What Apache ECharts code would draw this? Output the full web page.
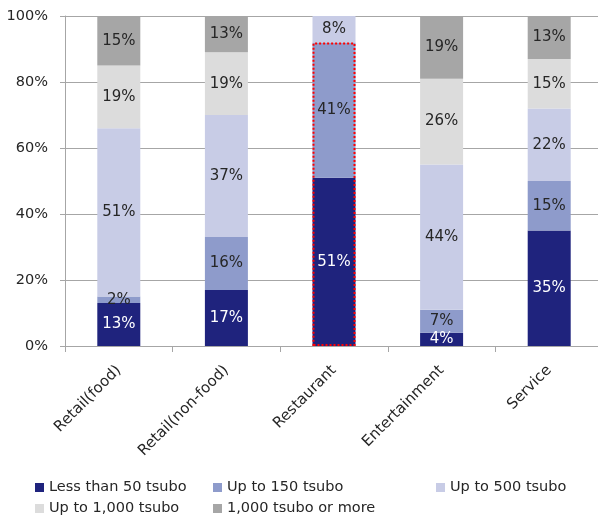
<!DOCTYPE html>
<html>
<head>
<meta charset="utf-8">
<script src="https://cdn.jsdelivr.net/npm/echarts@6/dist/echarts.min.js"></script>
<style>
  html, body { margin: 0; padding: 0; background: #ffffff; }
  #chart { width: 598px; height: 522px; }
</style>
</head>
<body>
<div id="chart"></div>
<script>
// Store-size mix by business type (share of floor area class, %)
const categories = ['Retail(food)', 'Retail(non-food)', 'Restaurant', 'Entertainment', 'Service'];

const seriesNames = ['Less than 50 tsubo', 'Up to 150 tsubo', 'Up to 500 tsubo', 'Up to 1,000 tsubo', '1,000 tsubo or more'];

const lessThan50 = [13, 17, 51, 4, 35];
const upTo150    = [2, 16, 41, 7, 15];
const upTo500    = [51, 37, 8, 44, 22];
const upTo1000   = [19, 19, 0, 26, 15];
const over1000   = [15, 13, 0, 19, 13];

const yTicks = [0, 20, 40, 60, 80, 100];

// Category whose two smallest size classes are outlined
const highlightCategory = 'Restaurant';

const colors = ['#1f237d', '#8e9bcb', '#c8cce6', '#dcdcdc', '#a6a6a6'];
const labelColors = ['#ffffff', '#262626', '#262626', '#262626', '#262626'];
const FONT = '"DejaVu Sans", Verdana, sans-serif';

const values = [lessThan50, upTo150, upTo500, upTo1000, over1000];

const stackSeries = values.map((vals, i) => ({
  name: seriesNames[i],
  type: 'bar',
  stack: 'share',
  barWidth: 43,
  barGap: '-100%',
  data: vals,
  itemStyle: { color: colors[i] },
  label: {
    show: true,
    position: 'inside',
    color: labelColors[i],
    fontFamily: FONT,
    fontSize: 15,
    formatter: p => (p.value > 0 ? p.value + '%' : '')
  },
  emphasis: { disabled: true }
}));

// Dotted outline around the two smallest classes of the highlighted category
const hIdx = categories.indexOf(highlightCategory);
const outlineData = categories.map((c, i) => (i === hIdx ? lessThan50[i] + upTo150[i] : '-'));

const outlineSeries = {
  name: 'outline',
  type: 'bar',
  barWidth: 43,
  barGap: '-100%',
  z: 5,
  data: outlineData,
  itemStyle: {
    color: 'rgba(0,0,0,0)',
    borderColor: '#ff0000',
    borderWidth: 2,
    borderType: [2, 2]
  },
  label: { show: false },
  silent: true,
  emphasis: { disabled: true }
};

// Legend laid out as a 3-column, 2-row block; one legend component per entry
const legendSlots = [
  { left: 35, top: 480 },
  { left: 213, top: 480 },
  { left: 436, top: 480 },
  { left: 35, top: 501 },
  { left: 213, top: 501 }
];

const legends = seriesNames.map((name, i) => ({
  data: [name],
  left: legendSlots[i].left,
  top: legendSlots[i].top,
  padding: 0,
  icon: 'rect',
  itemWidth: 9,
  itemHeight: 9,
  selectedMode: false,
  textStyle: { fontFamily: FONT, fontSize: 14.5, color: '#262626' }
}));

const chart = echarts.init(document.getElementById('chart'), null, { renderer: 'canvas' });

chart.setOption({
  animation: false,
  backgroundColor: '#ffffff',
  color: colors,
  grid: {
    left: 65,
    right: -5,
    top: 16,
    bottom: 176,
    outerBoundsMode: 'none'
  },
  legend: legends,
  xAxis: {
    type: 'category',
    data: categories,
    boundaryGap: true,
    axisLine: { show: true, lineStyle: { color: '#a6a6a6', width: 1 } },
    axisTick: { show: true, length: 6, lineStyle: { color: '#a6a6a6' } },
    axisLabel: {
      rotate: 45,
      margin: 22,
      interval: 0,
      fontFamily: FONT,
      fontSize: 15,
      color: '#262626'
    },
    splitLine: { show: false }
  },
  yAxis: {
    type: 'value',
    min: yTicks[0],
    max: yTicks[yTicks.length - 1],
    interval: yTicks[1] - yTicks[0],
    axisLine: { show: true, lineStyle: { color: '#a6a6a6', width: 1 } },
    axisTick: { show: true, length: 5, lineStyle: { color: '#a6a6a6' } },
    axisLabel: {
      formatter: '{value}%',
      margin: 17,
      fontFamily: FONT,
      fontSize: 14.5,
      color: '#262626'
    },
    splitLine: { show: true, lineStyle: { color: '#a6a6a6', width: 1 } }
  },
  series: stackSeries.concat([outlineSeries])
});
</script>
</body>
</html>
